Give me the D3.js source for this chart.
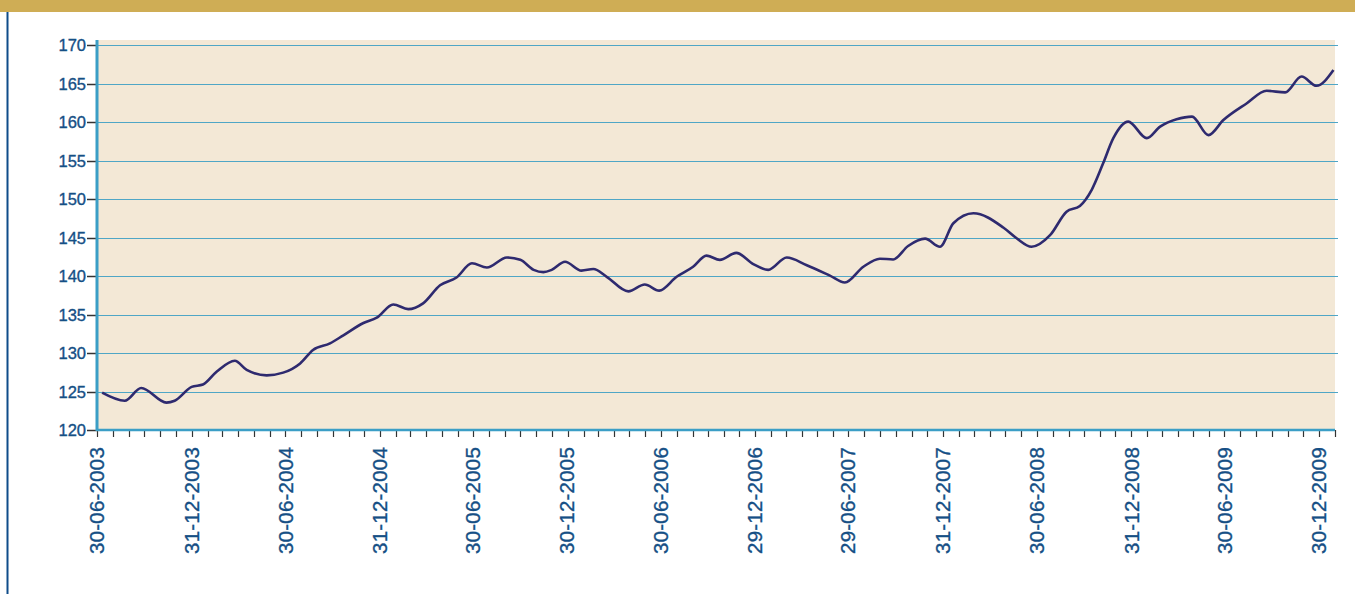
<!DOCTYPE html>
<html>
<head>
<meta charset="utf-8">
<script src="https://cdn.jsdelivr.net/npm/d3@7"></script>
<style>
  body { margin: 0; background: #fff; }
  svg { display: block; }
  .ylab, .xlab { font-family: "Liberation Sans", Arial, sans-serif; fill: #154f85; stroke: #154f85; stroke-width: 0.35px; }
  .ylab { font-size: 16.5px; }
  .xlab { font-size: 20.5px; letter-spacing: 0.2px; }
</style>
</head>
<body>
<svg width="1355" height="594"></svg>
<script>
// index values at turning points
var dates = [
  "2003-07-10", "2003-08-23", "2003-09-24", "2003-11-12", "2003-11-28", "2003-12-31",
  "2004-01-22", "2004-02-18", "2004-03-24", "2004-04-16", "2004-05-25", "2004-06-26",
  "2004-07-29", "2004-08-23", "2004-09-25", "2004-10-21", "2004-11-29", "2004-12-25",
  "2005-01-26", "2005-02-24", "2005-03-25", "2005-04-27", "2005-05-29", "2005-06-28",
  "2005-07-27", "2005-09-04", "2005-09-30", "2005-10-26", "2005-11-14", "2005-11-30",
  "2005-12-26", "2006-01-27", "2006-02-19", "2006-03-17", "2006-04-28", "2006-05-30",
  "2006-06-27", "2006-07-31", "2006-09-01", "2006-09-27", "2006-10-23", "2006-11-24",
  "2006-12-27", "2007-01-25", "2007-03-02", "2007-04-10", "2007-05-25", "2007-06-23",
  "2007-07-29", "2007-08-30", "2007-09-25", "2007-10-24", "2007-11-26", "2007-12-25",
  "2008-01-20", "2008-02-28", "2008-04-26", "2008-05-22", "2008-06-20", "2008-07-26",
  "2008-08-27", "2008-09-22", "2008-10-15", "2008-11-06", "2008-11-26", "2008-12-25",
  "2009-01-30", "2009-02-25", "2009-03-29", "2009-04-28", "2009-05-30", "2009-06-28",
  "2009-08-12", "2009-09-20", "2009-10-26", "2009-11-27", "2009-12-26", "2010-01-28"
];
var values = [
  124.85, 123.8, 125.45, 123.55, 123.8, 125.6,
  125.9, 127.6, 129.0, 127.8, 127.1, 127.45,
  128.65, 130.4, 131.25, 132.3, 133.9, 134.6,
  136.3, 135.7, 136.45, 138.8, 139.8, 141.65,
  141.1, 142.4, 142.1, 140.8, 140.5, 140.8,
  141.85, 140.7, 140.9, 139.9, 138.0, 138.9,
  138.1, 139.9, 141.2, 142.65, 142.1, 143.0,
  141.55, 140.8, 142.4, 141.4, 140.05, 139.15,
  141.2, 142.25, 142.15, 143.9, 144.85, 143.8,
  146.85, 148.15, 146.3, 144.9, 143.8, 145.3,
  148.35, 149.1, 151.2, 154.6, 157.9, 160.05,
  157.9, 159.4, 160.35, 160.7, 158.3, 160.25,
  162.4, 164.05, 163.85, 165.9, 164.7, 166.75
];
var xLabels = ["30-06-2003", "31-12-2003", "30-06-2004", "31-12-2004", "30-06-2005",
  "30-12-2005", "30-06-2006", "29-12-2006", "29-06-2007", "31-12-2007",
  "30-06-2008", "31-12-2008", "30-06-2009", "30-12-2009"];
var yTicks = [120, 125, 130, 135, 140, 145, 150, 155, 160, 165, 170];

var parse = d3.timeParse("%Y-%m-%d");
var parseLab = d3.timeParse("%d-%m-%Y");
var data = dates.map(function(d, i) { return {date: parse(d), value: values[i]}; });

var svg = d3.select("svg");

// page frame
svg.append("rect").attr("x", 0).attr("y", 0).attr("width", 1355).attr("height", 12).attr("fill", "#cfad55");
svg.append("rect").attr("x", 6.5).attr("y", 12).attr("width", 2).attr("height", 582).attr("fill", "#0f4c8a");

var plotLeft = 97, plotRight = 1335, plotTop = 45, plotBottom = 430;

var x = d3.scaleTime()
    .domain([parse("2003-06-30"), parse("2010-01-31")])
    .range([plotLeft, plotRight]);
var y = d3.scaleLinear()
    .domain([120, 170])
    .range([plotBottom, plotTop]);

// plot background
svg.append("rect")
    .attr("x", plotLeft).attr("y", 40)
    .attr("width", plotRight - plotLeft).attr("height", plotBottom - 40)
    .attr("fill", "#f3e8d6");

// gridlines
svg.append("g").selectAll("line")
    .data(yTicks.slice(1))
    .enter().append("line")
    .attr("x1", plotLeft).attr("x2", plotRight + 3)
    .attr("y1", function(d) { return Math.round(y(d)) + 0.5; })
    .attr("y2", function(d) { return Math.round(y(d)) + 0.5; })
    .attr("stroke", "#4fa6c6")
    .attr("stroke-width", 1.2);

// monthly ticks at month ends
var monthEnds = d3.timeMonth.range(parse("2003-07-01"), parse("2010-02-02"))
    .map(function(d) { return d3.timeDay.offset(d, -1); });
svg.append("g").selectAll("line")
    .data(monthEnds)
    .enter().append("line")
    .attr("x1", function(d) { return Math.round(x(d)) + 0.5; })
    .attr("x2", function(d) { return Math.round(x(d)) + 0.5; })
    .attr("y1", plotBottom).attr("y2", plotBottom + 7)
    .attr("stroke", "#333").attr("stroke-width", 1.2);

// x labels
svg.append("g").selectAll("text")
    .data(xLabels)
    .enter().append("text")
    .attr("class", "xlab")
    .attr("transform", function(d) {
        return "translate(" + (x(parseLab(d)) + 7.3) + "," + (plotBottom + 17) + ") rotate(-90)";
    })
    .attr("text-anchor", "end")
    .text(function(d) { return d; });

// y ticks and labels
var yAxis = svg.append("g");
yAxis.selectAll("line")
    .data(yTicks)
    .enter().append("line")
    .attr("x1", 87).attr("x2", plotLeft)
    .attr("y1", function(d) { return Math.round(y(d)) + 0.5; })
    .attr("y2", function(d) { return Math.round(y(d)) + 0.5; })
    .attr("stroke", "#333").attr("stroke-width", 1.5);
yAxis.selectAll("text")
    .data(yTicks)
    .enter().append("text")
    .attr("class", "ylab")
    .attr("x", 86)
    .attr("y", function(d) { return y(d) + 6; })
    .attr("text-anchor", "end")
    .text(function(d) { return d; });

// axis lines
svg.append("line")
    .attr("x1", plotLeft).attr("x2", plotRight)
    .attr("y1", plotBottom).attr("y2", plotBottom)
    .attr("stroke", "#3b9ec6").attr("stroke-width", 2.5);
svg.append("line")
    .attr("x1", plotLeft).attr("x2", plotLeft)
    .attr("y1", 40).attr("y2", plotBottom + 1)
    .attr("stroke", "#3b9ec6").attr("stroke-width", 3);

// the series
var line = d3.line()
    .x(function(d) { return x(d.date); })
    .y(function(d) { return y(d.value); })
    .curve(d3.curveMonotoneX);

svg.append("path")
    .datum(data)
    .attr("d", line)
    .attr("fill", "none")
    .attr("stroke", "#2e2a6f")
    .attr("stroke-width", 2.6)
    .attr("stroke-linejoin", "round");
</script>
</body>
</html>
